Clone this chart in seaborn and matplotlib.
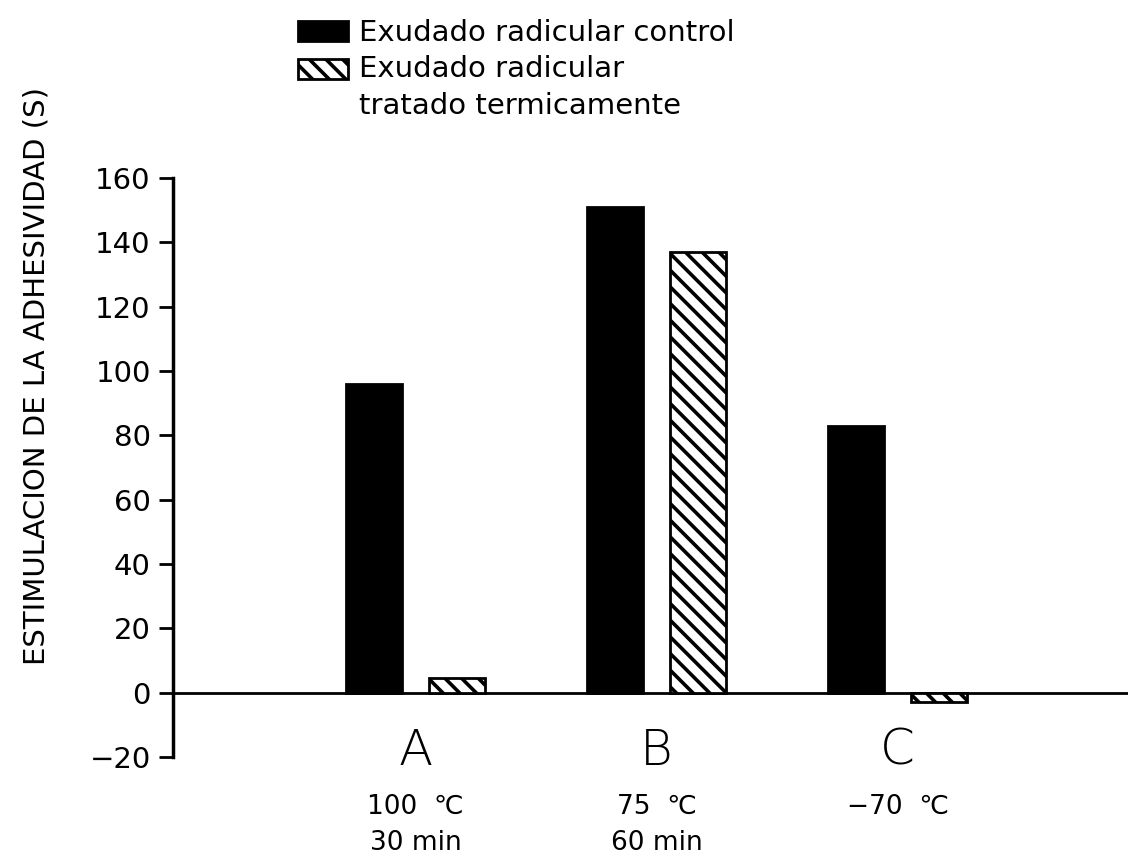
import numpy as np
import pandas as pd
import seaborn as sns
import matplotlib.pyplot as plt

# Datos del ensayo
grupos = ["A", "B", "C"]
temperaturas = ["100  ℃", "75  ℃", "−70  ℃"]
duraciones = ["30 min", "60 min", ""]
series = ["Exudado radicular control", "Exudado radicular\ntratado termicamente"]
control = [96, 151, 83]
tratado = [4.5, 137, -3]

df = pd.DataFrame({
    "grupo": grupos * 2,
    "serie": [series[0]] * len(grupos) + [series[1]] * len(grupos),
    "valor": control + tratado,
})

sns.set_theme(style="white")
plt.rcParams["font.family"] = ["DejaVu Sans"]
plt.rcParams["hatch.linewidth"] = 2.6
plt.rcParams["hatch.color"] = "black"

W, H = 1128, 860
fig = plt.figure(figsize=(W / 100, H / 100), dpi=100)
ax = fig.add_axes([173 / W, 1 - 757 / H, 1 - 173 / W, (757 - 178) / H])

sns.barplot(data=df, x="grupo", y="valor", hue="serie", hue_order=series,
            palette=["black", "white"], edgecolor="black", linewidth=2,
            width=0.69, gap=0.33, errorbar=None, legend=False, ax=ax)

for bar in ax.containers[1]:
    bar.set_hatch("\\\\")

ax.set_xlim(-1.006, 2.956)
ax.set_ylim(-20, 160)
ax.set_yticks(np.arange(-20, 161, 20))
ax.set_xticks([])
ax.set_xlabel("")
ax.set_ylabel("")

for s in ["top", "right", "bottom"]:
    ax.spines[s].set_visible(False)
ax.spines["left"].set_linewidth(2.5)
ax.spines["left"].set_color("black")
ax.axhline(0, color="black", lw=2, zorder=0.5)

ax.tick_params(axis="y", left=True, direction="out", length=10, width=2,
               labelsize=21, pad=6, colors="black")

# Etiquetas de los tratamientos
for i, g in enumerate(grupos):
    ax.text(i, -22.4, g, ha="center", va="baseline", fontsize=36,
            fontweight="light", color="black")
    ax.text(i, -37.7, temperaturas[i], ha="center", va="baseline",
            fontsize=19, color="black")
    if duraciones[i]:
        ax.text(i, -48.9, duraciones[i], ha="center", va="baseline",
                fontsize=19, color="black")

fig.text(37 / W, 1 - 376 / H, "ESTIMULACION DE LA ADHESIVIDAD (S)",
         rotation=90, ha="center", va="center", fontsize=21, color="black")

handles = [ax.containers[0][0], ax.containers[1][0]]
leg = fig.legend(handles, series, loc="upper left",
                 bbox_to_anchor=(298 / W, 1 - 19 / H), frameon=False,
                 fontsize=21, handlelength=1.72, handleheight=0.69,
                 handletextpad=0.38, labelspacing=0.28, borderpad=0,
                 borderaxespad=0)
for t in leg.get_texts():
    t.set_linespacing(1.38)
    t.set_color("black")
h2 = leg.legend_handles[1]
h2.set_y(h2.get_y() + 13.5)

fig.savefig("out.png", dpi=100)
